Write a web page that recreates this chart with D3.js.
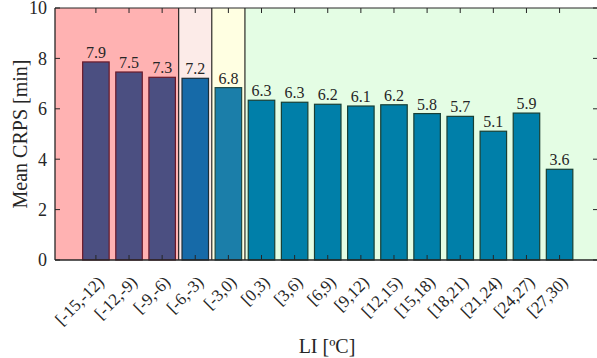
<!DOCTYPE html>
<html><head><meta charset="utf-8">
<script src="https://cdn.jsdelivr.net/npm/d3@7"></script>
</head><body style="margin:0;overflow:hidden"><div id="c"></div>
<script>
const categories = ["[-15,-12)","[-12,-9)","[-9,-6)","[-6,-3)","[-3,0)","[0,3)","[3,6)","[6,9)","[9,12)","[12,15)","[15,18)","[18,21)","[21,24)","[24,27)","[27,30)"];
const values = [7.86,7.46,7.25,7.21,6.84,6.34,6.26,6.18,6.11,6.16,5.81,5.70,5.11,5.83,3.60];
const valueLabels = ["7.9","7.5","7.3","7.2","6.8","6.3","6.3","6.2","6.1","6.2","5.8","5.7","5.1","5.9","3.6"];
const barColors = ["#4b4f81","#4b4f81","#4b4f81","#166aa8","#1b7ea9","#007fa9","#007fa9","#007fa9","#007fa9","#007fa9","#007fa9","#007fa9","#007fa9","#007fa9","#007fa9"];
const barEdges = ["#6a1a2a","#6a1a2a","#6a1a2a","#1a2e3a","#1e4a44","#173f35","#173f35","#173f35","#173f35","#173f35","#173f35","#173f35","#173f35","#173f35","#173f35"];
const regions = [
  {from: -1, to: 3.5, color: "#ffb2b2"},
  {from: 3.5, to: 4.5, color: "#fcebe8"},
  {from: 4.5, to: 5.5, color: "#ffffe2"},
  {from: 5.5, to: 17, color: "#e4fde4"}
];
const regionBorders = [3.5, 4.5, 5.5];
const yTicks = [0,2,4,6,8,10];

const FONT = '"Liberation Serif", Tinos, FreeSerif, "Times New Roman", Times';
const TXT = "#262626";
const W = 597, H = 358;
const m = {l: 55, r: 599, t: 8, b: 260};
const svg = d3.select("#c").append("svg").attr("width", W).attr("height", H)
  .style("font-family", FONT, "important");
const x = d3.scaleLinear().domain([-0.235, 16.25]).range([m.l, m.l + (16.25+0.235)*33.12]);
const y = d3.scaleLinear().domain([0, 10]).range([m.b, m.t]);
const bw = 0.8;
const cx = v => Math.max(m.l, Math.min(m.r, x(v)));

const g = svg.append("g");
g.selectAll("rect.bg").data(regions).join("rect").attr("class","bg")
  .attr("x", d => cx(d.from)).attr("width", d => cx(d.to) - cx(d.from))
  .attr("y", y(10)).attr("height", y(0) - y(10)).attr("fill", d => d.color);
g.selectAll("line.rb").data(regionBorders).join("line").attr("class","rb")
  .attr("x1", d => x(d)).attr("x2", d => x(d)).attr("y1", y(10)).attr("y2", y(0))
  .attr("stroke", "#000").attr("stroke-width", 1);

g.selectAll("rect.bar").data(values).join("rect").attr("class","bar")
  .attr("x", (d,i) => x(i+1 - bw/2)).attr("width", x(bw) - x(0))
  .attr("y", d => y(d)).attr("height", d => y(0) - y(d))
  .attr("fill", (d,i) => barColors[i]).attr("stroke", (d,i) => barEdges[i]).attr("stroke-width", 1.2);

function styleText(sel, size) {
  return sel.attr("font-family", FONT).style("font-family", FONT, "important")
    .attr("font-size", size).style("fill", TXT);
}

styleText(svg.selectAll("text.vl").data(values).join("text").attr("class","vl")
  .attr("x", (d,i) => x(i+1)).attr("y", d => y(d) - 4)
  .attr("text-anchor","middle").text((d,i) => valueLabels[i]), 16);

const ax = "#262626";
const frame = svg.append("g");
frame.append("line").attr("x1", m.l).attr("x2", m.r).attr("y1", m.b).attr("y2", m.b).attr("stroke", ax).attr("stroke-width", 1.3);
frame.append("line").attr("x1", m.l).attr("x2", m.l).attr("y1", m.t).attr("y2", m.b).attr("stroke", ax).attr("stroke-width", 1.3);
frame.append("line").attr("x1", m.l).attr("x2", m.r).attr("y1", m.t).attr("y2", m.t).attr("stroke", ax).attr("stroke-width", 1);

const xPos = categories.map((c,i) => i+1);
frame.selectAll("line.xtb").data(xPos).join("line").attr("class","xtb")
  .attr("x1", d => x(d)).attr("x2", d => x(d)).attr("y1", m.b).attr("y2", m.b - 5).attr("stroke", ax);
frame.selectAll("line.xtt").data(xPos).join("line").attr("class","xtt")
  .attr("x1", d => x(d)).attr("x2", d => x(d)).attr("y1", m.t).attr("y2", m.t + 5).attr("stroke", ax);
frame.selectAll("line.ytl").data(yTicks).join("line").attr("class","ytl")
  .attr("x1", m.l).attr("x2", m.l + 5).attr("y1", d => y(d)).attr("y2", d => y(d)).attr("stroke", ax);
frame.selectAll("line.ytr").data(yTicks).join("line").attr("class","ytr")
  .attr("x1", m.r - 1).attr("x2", m.r - 6).attr("y1", d => y(d)).attr("y2", d => y(d)).attr("stroke", ax);

styleText(svg.selectAll("text.yt").data(yTicks).join("text").attr("class","yt")
  .attr("x", m.l - 8).attr("y", d => y(d)).attr("dy", "0.35em")
  .attr("text-anchor","end").text(d => d), 18);

styleText(svg.selectAll("text.xt").data(categories).join("text").attr("class","xt")
  .attr("transform", (d,i) => `translate(${x(i+1)+5},${m.b + 19}) rotate(-45)`)
  .attr("text-anchor","end").attr("dy","0.35em").text(d => d), 17);

styleText(svg.append("text").attr("x", (m.l + m.r)/2).attr("y", 353).attr("text-anchor","middle")
  .text("LI [ºC]"), 20);
styleText(svg.append("text").attr("transform", `translate(27,${(m.t+m.b)/2}) rotate(-90)`)
  .attr("text-anchor","middle").text("Mean CRPS [min]"), 20);
</script></body></html>
